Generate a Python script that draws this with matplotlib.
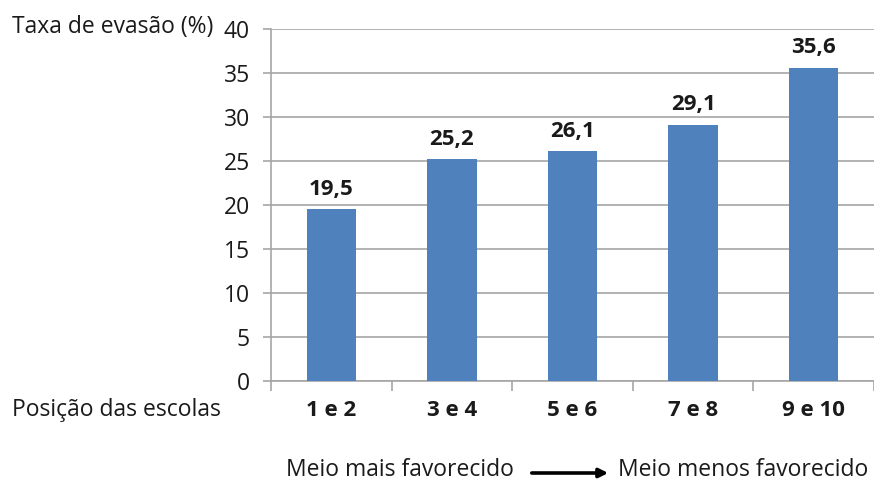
import matplotlib.pyplot as plt
from matplotlib.ticker import MultipleLocator

plt.rcParams["font.family"] = ["Open Sans", "DejaVu Sans"]

categories = ["1 e 2", "3 e 4", "5 e 6", "7 e 8", "9 e 10"]
values = [19.5, 25.2, 26.1, 29.1, 35.6]
value_labels = ["19,5", "25,2", "26,1", "29,1", "35,6"]

bar_color = "#4F81BD"
grid_color = "#A6A6A6"
text_color = "#1A1A1A"
fs = 16.5
fs_bold = 16

fig = plt.figure(figsize=(8.74, 4.82), dpi=100)
ax = fig.add_axes([0.310, 0.2095, 0.690, 0.7303])

x = list(range(len(categories)))
ax.bar(x, values, width=0.41, color=bar_color, zorder=3)

for xi, v, lab in zip(x, values, value_labels):
    ax.annotate(lab, (xi, v), textcoords="offset points", xytext=(0, 7),
                ha="center", va="bottom", fontsize=fs_bold, fontweight="bold",
                color=text_color, zorder=5)

ax.set_xlim(-0.5, len(categories) - 0.5)
ax.set_ylim(0, 40)
ax.yaxis.set_major_locator(MultipleLocator(5))
ax.grid(axis="y", color=grid_color, linewidth=1.2, zorder=0)

# category labels between ticks at the boundaries
ax.set_xticks([i - 0.5 for i in range(len(categories) + 1)])
ax.set_xticklabels([])
ax.set_xticks(x, minor=True)
ax.set_xticklabels(categories, minor=True, fontsize=fs_bold, fontweight="bold",
                   color=text_color)
ax.tick_params(axis="x", which="major", length=7, color=grid_color, width=1.2)
ax.tick_params(axis="x", which="minor", length=0, pad=14)
ax.tick_params(axis="y", length=6, color=grid_color, width=1.2, labelsize=fs,
               labelcolor=text_color, pad=9)

for side in ["top", "right"]:
    ax.spines[side].set_visible(False)
for side in ["left", "bottom"]:
    ax.spines[side].set_color(grid_color)
    ax.spines[side].set_linewidth(1.2)

fig.text(12 / 874, 1 - 27 / 482, "Taxa de evasão (%)", fontsize=fs,
         color=text_color, va="center", ha="left")
fig.text(12 / 874, 1 - 410 / 482, "Posição das escolas", fontsize=fs,
         color=text_color, va="center", ha="left")

fig.text(286 / 874, 1 - 470 / 482, "Meio mais favorecido", fontsize=fs,
         color=text_color, va="center", ha="left")
fig.text(868 / 874, 1 - 470 / 482, "Meio menos favorecido", fontsize=fs,
         color=text_color, va="center", ha="right")
fig.patches.append(plt.matplotlib.patches.FancyArrowPatch(
    (529 / 874, 1 - 473 / 482), (611 / 874, 1 - 473 / 482),
    transform=fig.transFigure, arrowstyle="-|>", mutation_scale=13,
    linewidth=2.6, color="black"))

fig.savefig("out.png", dpi=100)
